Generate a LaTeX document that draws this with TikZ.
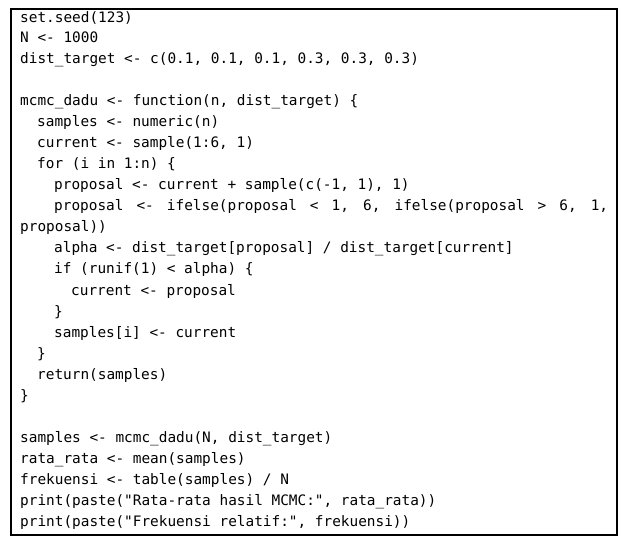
\documentclass[tikz,border=0pt]{standalone}
\usepackage{fontspec}
\setmonofont{DejaVu Sans Mono}
\usepackage{tikz}

\tikzset{
	kode/.style={anchor=base west, inner sep=0pt, font=\ttfamily\fontsize{14.4}{16}\selectfont},
}

\begin{document}
\begin{tikzpicture}[x=1pt, y=-1pt]
		\useasboundingbox (0,0) rectangle (628,546);
		\node[draw=black, line width=1.2pt, minimum width=606pt, minimum height=526pt, inner sep=0pt] (kotak) at (314,272) {};

		\node[kode] (l1) at (20,22) {set.seed(123)};
		\node[kode] (l2) at (20,42) {N <- 1000};
		\node[kode] (l3) at (20,63) {dist\_target <- c(0.1, 0.1, 0.1, 0.3, 0.3, 0.3)};

		\node[kode] (l5) at (20,105) {mcmc\_dadu <- function(n, dist\_target) \{};
		\node[kode] (l6) at (37,126) {samples <- numeric(n)};
		\node[kode] (l7) at (37,147) {current <- sample(1:6, 1)};
		\node[kode] (l8) at (37,168) {for (i in 1:n) \{};
		\node[kode] (l9) at (54,189) {proposal <- current + sample(c(-1, 1), 1)};
		\node[kode] (l10) at (54,210) {\makebox[554pt][s]{\spaceskip=0.6em plus 1em proposal <- ifelse(proposal < 1, 6, ifelse(proposal > 6, 1,}};
		\node[kode] (l11) at (20,231) {proposal))};
		\node[kode] (l12) at (54,252) {alpha <- dist\_target[proposal] / dist\_target[current]};
		\node[kode] (l13) at (54,273) {if (runif(1) < alpha) \{};
		\node[kode] (l14) at (71,295) {current <- proposal};
		\node[kode] (l15) at (54,316) {\}};
		\node[kode] (l16) at (54,337) {samples[i] <- current};
		\node[kode] (l17) at (37,358) {\}};
		\node[kode] (l18) at (37,379) {return(samples)};
		\node[kode] (l19) at (20,400) {\}};

		\node[kode] (l21) at (20,442) {samples <- mcmc\_dadu(N, dist\_target)};
		\node[kode] (l22) at (20,463) {rata\_rata <- mean(samples)};
		\node[kode] (l23) at (20,484) {frekuensi <- table(samples) / N};
		\node[kode] (l24) at (20,505) {print(paste("Rata-rata hasil MCMC:", rata\_rata))};
		\node[kode] (l25) at (20,526) {print(paste("Frekuensi relatif:", frekuensi))};
	\end{tikzpicture}
\end{document}
